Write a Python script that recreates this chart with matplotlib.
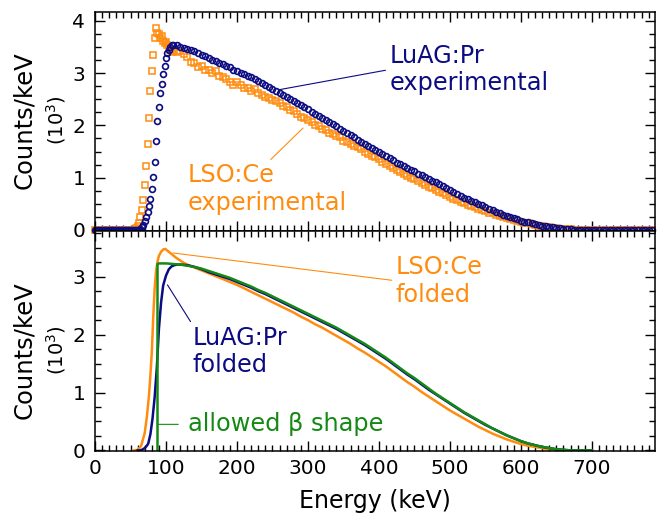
"""
Beta spectrum comparison: measured (top) and folded model (bottom)
for LuAG:Pr and LSO:Ce.
"""

import numpy as np
import matplotlib.pyplot as plt
from matplotlib.ticker import MultipleLocator

NAVY = '#0b0b82'
ORANGE = '#ff8c0f'
GREEN = '#148a14'

# --- Top panel: experimental spectra (10^3 counts/keV) ---
# low-energy part sampled every 2 keV starting at 0 keV
LOW_START, LOW_STEP = 0, 2
luag_exp_low = [
    0, 0, 0, 0, 0, 0, 0, 0, 0, 0,
    0, 0, 0, 0, 0, 0, 0, 0, 0, 0,
    0, 0, 0, 0, 0, 0, 0, 0, 0, 0,
    0.0, 0.0, 0.02, 0.05, 0.10, 0.17, 0.25, 0.34, 0.45, 0.60,
    0.78, 1.02, 1.30, 1.70, 2.08, 2.36, 2.62, 2.80, 2.98, 3.14,
    3.29, 3.38, 3.45, 3.50, 3.53,
]
lso_exp_low = [
    0, 0, 0, 0, 0, 0, 0, 0, 0, 0,
    0, 0, 0, 0, 0, 0, 0, 0, 0, 0,
    0, 0, 0, 0, 0, 0, 0, 0, 0.01, 0.03,
    0.07, 0.14, 0.24, 0.38, 0.58, 0.86, 1.22, 1.65, 2.15, 2.65,
    3.05, 3.35, 3.68, 3.87, 3.77, 3.75, 3.68, 3.72, 3.62, 3.57,
    3.60, 3.53, 3.51, 3.45, 3.41,
]
# rest of the spectrum sampled every 5 keV starting at 110 keV
BODY_START, BODY_STEP = 110, 5
luag_exp_body = [
    3.54, 3.53, 3.51, 3.49, 3.47, 3.44, 3.42, 3.38, 3.35, 3.32,
    3.29, 3.26, 3.23, 3.20, 3.17, 3.14, 3.11, 3.07, 3.04, 3.01,
    2.98, 2.95, 2.92, 2.88, 2.85, 2.81, 2.77, 2.74, 2.70, 2.66,
    2.62, 2.58, 2.54, 2.50, 2.47, 2.43, 2.39, 2.35, 2.31, 2.26,
    2.22, 2.18, 2.14, 2.10, 2.06, 2.02, 1.98, 1.94, 1.89, 1.85,
    1.81, 1.77, 1.73, 1.69, 1.65, 1.61, 1.57, 1.53, 1.49, 1.45,
    1.41, 1.37, 1.33, 1.29, 1.26, 1.22, 1.19, 1.15, 1.12, 1.08,
    1.05, 1.01, 0.98, 0.94, 0.91, 0.87, 0.84, 0.80, 0.76, 0.73,
    0.69, 0.65, 0.62, 0.59, 0.56, 0.53, 0.50, 0.47, 0.44, 0.41,
    0.38, 0.35, 0.32, 0.29, 0.27, 0.25, 0.22, 0.20, 0.18, 0.16,
    0.15, 0.13, 0.11, 0.10, 0.08, 0.07, 0.06, 0.05, 0.04, 0.03,
    0.02, 0.01, 0.01, 0, 0, 0, 0, 0, 0, 0,
    0, 0, 0, 0, 0, 0, 0, 0, 0, 0,
    0, 0, 0, 0, 0, 0,
]
lso_exp_body = [
    3.42, 3.40, 3.43, 3.36, 3.31, 3.22, 3.20, 3.12, 3.14, 3.06,
    3.07, 3.00, 3.04, 2.95, 2.93, 2.88, 2.84, 2.78, 2.83, 2.77,
    2.72, 2.71, 2.66, 2.69, 2.62, 2.59, 2.54, 2.53, 2.49, 2.46,
    2.43, 2.37, 2.36, 2.30, 2.28, 2.21, 2.17, 2.15, 2.11, 2.07,
    2.01, 1.99, 1.94, 1.91, 1.85, 1.83, 1.79, 1.77, 1.71, 1.69,
    1.65, 1.61, 1.58, 1.54, 1.50, 1.46, 1.42, 1.39, 1.35, 1.30,
    1.26, 1.23, 1.18, 1.14, 1.11, 1.07, 1.04, 1.00, 0.97, 0.93,
    0.90, 0.86, 0.83, 0.80, 0.76, 0.73, 0.70, 0.66, 0.63, 0.60,
    0.57, 0.54, 0.51, 0.48, 0.46, 0.43, 0.41, 0.38, 0.36, 0.33,
    0.32, 0.29, 0.27, 0.25, 0.23, 0.21, 0.19, 0.17, 0.16, 0.14,
    0.13, 0.11, 0.10, 0.08, 0.07, 0.06, 0.05, 0.04, 0.03, 0.02,
    0.02, 0.01, 0.01, 0, 0, 0, 0, 0, 0, 0,
    0, 0, 0, 0, 0, 0, 0, 0, 0, 0,
    0, 0, 0, 0, 0, 0,
]

# --- Bottom panel: folded model spectra (10^3 counts/keV) ---
lso_fold_e = [55, 60, 65, 70, 73, 76, 78, 80, 82, 84, 86, 88, 90, 93, 96, 99,
              102, 106, 110, 115, 120, 125, 130, 140, 150, 160, 170, 180, 190,
              200, 210, 220, 230, 240, 250, 260, 270, 280, 290, 300, 310, 320,
              330, 340, 350, 360, 370, 380, 390, 400, 410, 420, 430, 440, 450,
              460, 470, 480, 490, 500, 510, 520, 530, 540, 550, 560, 570, 580,
              590, 600, 610, 620, 630, 640, 650, 660, 700]
lso_fold = [0, 0.01, 0.08, 0.30, 0.58, 0.95, 1.30, 1.70, 2.30, 2.80, 3.10, 3.26,
            3.36, 3.43, 3.47, 3.48, 3.45, 3.41, 3.37, 3.32, 3.28, 3.24, 3.21,
            3.16, 3.11, 3.06, 3.01, 2.96, 2.91, 2.86, 2.80, 2.74, 2.68, 2.62,
            2.56, 2.50, 2.44, 2.38, 2.31, 2.25, 2.18, 2.12, 2.05, 1.98, 1.91,
            1.84, 1.76, 1.69, 1.61, 1.53, 1.45, 1.36, 1.27, 1.18, 1.10, 1.01,
            0.93, 0.85, 0.77, 0.69, 0.62, 0.55, 0.48, 0.41, 0.35, 0.29, 0.24,
            0.19, 0.15, 0.11, 0.08, 0.06, 0.04, 0.02, 0.01, 0, 0]

luag_fold_e = [60, 63, 66, 70, 73, 75, 78, 81, 84, 87, 90, 93, 96, 100, 104, 108,
               112, 116, 120, 130, 140, 150, 160, 170, 180, 190, 200, 210, 220,
               230, 240, 250, 260, 270, 280, 290, 300, 310, 320, 330, 340, 350,
               360, 370, 380, 390, 400, 410, 420, 430, 440, 450, 460, 470, 480,
               490, 500, 510, 520, 530, 540, 550, 560, 570, 580, 590, 600, 610,
               620, 630, 640, 650, 660, 670, 700]
luag_fold = [0, 0, 0.01, 0.04, 0.08, 0.12, 0.28, 0.55, 0.92, 1.42, 2.10, 2.55,
             2.85, 3.02, 3.13, 3.18, 3.20, 3.21, 3.21, 3.20, 3.17, 3.13, 3.08,
             3.04, 3.00, 2.96, 2.91, 2.86, 2.81, 2.75, 2.70, 2.64, 2.58, 2.52,
             2.46, 2.40, 2.34, 2.28, 2.22, 2.16, 2.10, 2.03, 1.96, 1.89, 1.82,
             1.74, 1.66, 1.58, 1.49, 1.40, 1.31, 1.23, 1.14, 1.05, 0.97, 0.89,
             0.81, 0.73, 0.65, 0.58, 0.51, 0.44, 0.38, 0.32, 0.26, 0.21, 0.16,
             0.12, 0.09, 0.06, 0.04, 0.02, 0.01, 0, 0]

beta_e = [88, 88, 90, 100, 110, 120, 130, 140, 150, 160, 170, 180, 190, 200,
          210, 220, 230, 240, 250, 260, 270, 280, 290, 300, 310, 320, 330, 340,
          350, 360, 370, 380, 390, 400, 410, 420, 430, 440, 450, 460, 470, 480,
          490, 500, 510, 520, 530, 540, 550, 560, 570, 580, 590, 600, 610, 620,
          630, 640, 650, 660, 670, 700]
beta_shape = [0, 3.22, 3.23, 3.23, 3.22, 3.21, 3.19, 3.17, 3.14, 3.10, 3.06,
              3.02, 2.98, 2.93, 2.88, 2.83, 2.77, 2.72, 2.66, 2.60, 2.54, 2.48,
              2.42, 2.36, 2.30, 2.24, 2.18, 2.12, 2.05, 1.98, 1.91, 1.84, 1.76,
              1.68, 1.60, 1.51, 1.42, 1.33, 1.25, 1.16, 1.07, 0.98, 0.90, 0.82,
              0.74, 0.66, 0.59, 0.52, 0.45, 0.38, 0.32, 0.26, 0.21, 0.16, 0.12,
              0.09, 0.06, 0.04, 0.02, 0.01, 0, 0]

X_TICKS = [0, 100, 200, 300, 400, 500, 600, 700]


def bins(start, step, values):
    return start + step * np.arange(len(values))


def style_axis(ax):
    ax.set_xlim(0, 789)
    ax.xaxis.set_major_locator(MultipleLocator(100))
    ax.xaxis.set_minor_locator(MultipleLocator(10))
    ax.yaxis.set_major_locator(MultipleLocator(1))
    ax.yaxis.set_minor_locator(MultipleLocator(0.25))
    ax.tick_params(which='both', direction='in', top=True, right=True,
                   width=1.0, labelsize=14.5)
    ax.tick_params(which='major', length=7)
    ax.tick_params(which='minor', length=4)
    ax.tick_params(axis='y', pad=7)
    ax.tick_params(axis='x', pad=6)
    for s in ax.spines.values():
        s.set_linewidth(1.1)


fig = plt.figure(figsize=(6.6, 5.14), dpi=100)
ax1 = fig.add_axes([0.144, 0.5506, 0.8485, 0.426])
ax2 = fig.add_axes([0.144, 0.1226, 0.8485, 0.428])

# top: measured points
lso_x = np.concatenate([bins(LOW_START, LOW_STEP, lso_exp_low),
                        bins(BODY_START, BODY_STEP, lso_exp_body)])
lso_y = np.concatenate([lso_exp_low, lso_exp_body])
luag_x = np.concatenate([bins(LOW_START, LOW_STEP, luag_exp_low),
                         bins(BODY_START, BODY_STEP, luag_exp_body)])
luag_y = np.concatenate([luag_exp_low, luag_exp_body])

ax1.plot(lso_x, lso_y, ls='none', marker='s', ms=3.8, mfc='none',
         mec=ORANGE, mew=1.1, clip_on=False)
ax1.plot(luag_x, luag_y, ls='none', marker='o', ms=4.2, mfc='none',
         mec=NAVY, mew=1.2, clip_on=False)
style_axis(ax1)
ax1.set_ylim(-0.02, 4.17)
ax1.tick_params(labelbottom=False)

txt = dict(fontsize=17.3, ha='left', va='center')
ax1.annotate('LuAG:Pr\nexperimental', xy=(258, 2.68), xytext=(415, 3.07),
             color=NAVY, **txt,
             arrowprops=dict(arrowstyle='-', color=NAVY, lw=0.8,
                             relpos=(0, 0.5), shrinkA=1, shrinkB=0))
ax1.annotate('LSO:Ce\nexperimental', xy=(293, 1.95), xytext=(130, 0.78),
             color=ORANGE, **txt,
             arrowprops=dict(arrowstyle='-', color=ORANGE, lw=0.8,
                             relpos=(0.5, 1), shrinkA=1, shrinkB=0))

# bottom: folded curves
ax2.plot(lso_fold_e, lso_fold, color=ORANGE, lw=1.8)
ax2.plot(luag_fold_e, luag_fold, color=NAVY, lw=1.8)
ax2.plot(beta_e, beta_shape, color=GREEN, lw=1.8)
style_axis(ax2)
ax2.set_ylim(-0.01, 3.79)
ax2.set_xticks(X_TICKS)
ax2.set_xlabel('Energy (keV)', fontsize=17, labelpad=8)

ax2.annotate('LSO:Ce\nfolded', xy=(110, 3.41), xytext=(424, 2.93),
             color=ORANGE, **txt,
             arrowprops=dict(arrowstyle='-', color=ORANGE, lw=0.8,
                             relpos=(0, 0.5), shrinkA=1, shrinkB=0))
ax2.annotate('LuAG:Pr\nfolded', xy=(102, 2.86), xytext=(138, 1.71),
             color=NAVY, **txt,
             arrowprops=dict(arrowstyle='-', color=NAVY, lw=0.8,
                             relpos=(0, 1), shrinkA=1, shrinkB=0))
ax2.annotate('allowed β shape', xy=(89, 0.45), xytext=(131, 0.45),
             color=GREEN, **txt,
             arrowprops=dict(arrowstyle='-', color=GREEN, lw=0.8,
                             relpos=(0, 0.5), shrinkA=5, shrinkB=0))

# y labels (two lines of different size)
for yc in (0.7665, 0.319):
    fig.text(0.036, yc, 'Counts/keV', rotation=90, ha='center', va='center',
             fontsize=17.5)
    fig.text(0.085, yc, '(10$^3$)', rotation=90, ha='center', va='center',
             fontsize=14)

fig.savefig('out.png', dpi=100)
